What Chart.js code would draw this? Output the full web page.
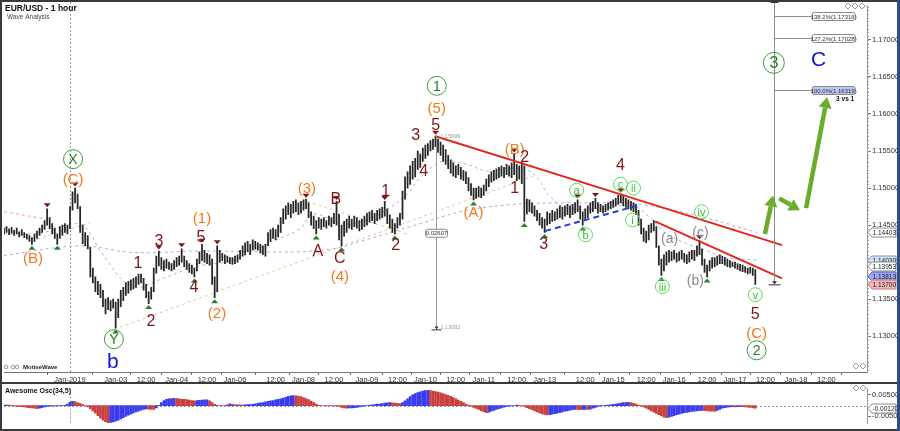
<!DOCTYPE html>
<html>
<head>
<meta charset="utf-8">
<script src="https://cdn.jsdelivr.net/npm/chart.js@4.4.1/dist/chart.umd.min.js"></script>
<style>
  html, body { margin: 0; padding: 0; background: #fff; }
  #wrap { position: relative; width: 900px; height: 431px; overflow: hidden; background: #fff; }
  #main { position: absolute; left: 0; top: 0; }
  #osc { position: absolute; left: 0; top: 383px; }
  .edge { position: absolute; background: #3a3a3a; }
</style>
</head>
<body>
<div id="wrap">
  <canvas id="main" width="900" height="383"></canvas>
  <canvas id="osc" width="900" height="46"></canvas>
  <div class="edge" style="left:0;top:0;width:900px;height:2px"></div>
  <div class="edge" style="left:0;top:0;width:2px;height:431px"></div>
  <div class="edge" style="left:0;top:382px;width:897px;height:2px"></div>
  <div class="edge" style="left:0;top:429px;width:900px;height:2px"></div>
  <div class="edge" style="left:897px;top:0;width:3px;height:431px;background:#2d4f86"></div>
</div>
<script>
// hourly bars, index 0 = first bar on the left
const lows = [
  1.1438,1.1440,1.1437,1.1439,1.1436,1.1438,1.1434,1.1436,1.1433,1.1431,
  1.1428,1.1424,1.1428,1.1432,1.1436,1.1440,1.1444,1.1450,1.1445,1.1438,
  1.1432,1.1424,1.1432,1.1436,1.1440,1.1438,1.1445,1.1470,1.1480,1.1472,
  1.1440,1.1425,1.1422,1.1418,1.1380,1.1372,1.1360,1.1356,1.1352,1.1340,
  1.1330,1.1336,1.1334,1.1338,1.1311,1.1325,1.1340,1.1348,1.1355,1.1358,
  1.1362,1.1364,1.1366,1.1370,1.1372,1.1362,1.1352,1.1344,1.1350,1.1360,
  1.1385,1.1395,1.1390,1.1388,1.1392,1.1390,1.1388,1.1390,1.1394,1.1396,
  1.1400,1.1394,1.1390,1.1386,1.1384,1.1380,1.1388,1.1398,1.1402,1.1400,
  1.1398,1.1396,1.1370,1.1352,1.1360,1.1400,1.1402,1.1398,1.1400,1.1398,
  1.1397,1.1398,1.1400,1.1404,1.1408,1.1410,1.1414,1.1410,1.1416,1.1418,
  1.1416,1.1412,1.1410,1.1408,1.1422,1.1428,1.1432,1.1430,1.1434,1.1440,
  1.1452,1.1458,1.1464,1.1460,1.1466,1.1468,1.1464,1.1466,1.1470,1.1472,
  1.1460,1.1450,1.1445,1.1438,1.1446,1.1444,1.1448,1.1446,1.1450,1.1448,
  1.1452,1.1450,1.1430,1.1422,1.1435,1.1440,1.1446,1.1444,1.1448,1.1446,
  1.1442,1.1444,1.1448,1.1450,1.1454,1.1456,1.1452,1.1456,1.1458,1.1460,
  1.1462,1.1452,1.1446,1.1440,1.1438,1.1446,1.1450,1.1458,1.1485,1.1500,
  1.1505,1.1512,1.1515,1.1525,1.1528,1.1536,1.1540,1.1544,1.1550,1.1552,
  1.1556,1.1548,1.1544,1.1536,1.1532,1.1526,1.1520,1.1516,1.1514,1.1518,
  1.1512,1.1510,1.1506,1.1496,1.1490,1.1484,1.1486,1.1488,1.1487,1.1490,
  1.1496,1.1502,1.1508,1.1510,1.1512,1.1514,1.1516,1.1514,1.1518,1.1516,
  1.1514,1.1518,1.1510,1.1512,1.1506,1.1455,1.1465,1.1468,1.1466,1.1462,
  1.1456,1.1450,1.1446,1.1440,1.1450,1.1452,1.1455,1.1456,1.1458,1.1460,
  1.1458,1.1462,1.1464,1.1460,1.1464,1.1466,1.1468,1.1458,1.1450,1.1456,
  1.1460,1.1466,1.1468,1.1472,1.1466,1.1468,1.1466,1.1468,1.1470,1.1472,
  1.1474,1.1476,1.1478,1.1480,1.1476,1.1474,1.1472,1.1470,1.1468,1.1464,
  1.1450,1.1438,1.1428,1.1426,1.1430,1.1440,1.1442,1.1420,1.1396,1.1382,
  1.1388,1.1396,1.1400,1.1402,1.1404,1.1400,1.1402,1.1404,1.1400,1.1398,
  1.1400,1.1404,1.1402,1.1408,1.1410,1.1396,1.1386,1.1380,1.1388,1.1392,
  1.1394,1.1396,1.1398,1.1398,1.1396,1.1394,1.1393,1.1394,1.1392,1.1390,
  1.1388,1.1387,1.1386,1.1384,1.1385,1.1382,1.1370
];
const highs = [
  1.1446,1.1448,1.1445,1.1447,1.1443,1.1446,1.1441,1.1444,1.1440,1.1438,
  1.1436,1.1433,1.1438,1.1442,1.1446,1.1450,1.1456,1.1472,1.1460,1.1452,
  1.1446,1.1438,1.1448,1.1450,1.1452,1.1450,1.1475,1.1495,1.1500,1.1492,
  1.1475,1.1450,1.1440,1.1436,1.1420,1.1392,1.1380,1.1374,1.1370,1.1362,
  1.1350,1.1352,1.1348,1.1350,1.1346,1.1350,1.1362,1.1366,1.1372,1.1374,
  1.1376,1.1378,1.1380,1.1384,1.1384,1.1378,1.1370,1.1360,1.1366,1.1392,
  1.1408,1.1415,1.1406,1.1402,1.1404,1.1400,1.1398,1.1402,1.1406,1.1408,
  1.1418,1.1408,1.1402,1.1398,1.1396,1.1392,1.1404,1.1414,1.1424,1.1416,
  1.1412,1.1410,1.1404,1.1380,1.1422,1.1416,1.1412,1.1410,1.1408,1.1406,
  1.1406,1.1408,1.1410,1.1416,1.1422,1.1426,1.1428,1.1424,1.1430,1.1428,
  1.1426,1.1424,1.1422,1.1424,1.1440,1.1444,1.1446,1.1444,1.1450,1.1460,
  1.1472,1.1476,1.1480,1.1478,1.1482,1.1484,1.1480,1.1482,1.1484,1.1485,
  1.1480,1.1468,1.1462,1.1456,1.1460,1.1458,1.1460,1.1456,1.1462,1.1460,
  1.1466,1.1482,1.1465,1.1450,1.1455,1.1458,1.1462,1.1458,1.1462,1.1460,
  1.1456,1.1458,1.1462,1.1466,1.1468,1.1470,1.1466,1.1470,1.1472,1.1474,
  1.1482,1.1472,1.1464,1.1458,1.1452,1.1460,1.1466,1.1496,1.1515,1.1522,
  1.1530,1.1536,1.1540,1.1550,1.1546,1.1554,1.1558,1.1560,1.1564,1.1566,
  1.1570,1.1566,1.1562,1.1558,1.1552,1.1544,1.1538,1.1534,1.1530,1.1532,
  1.1528,1.1524,1.1522,1.1514,1.1506,1.1500,1.1500,1.1502,1.1500,1.1504,
  1.1512,1.1518,1.1522,1.1524,1.1526,1.1528,1.1530,1.1528,1.1532,1.1530,
  1.1534,1.1546,1.1532,1.1530,1.1536,1.1530,1.1485,1.1484,1.1480,1.1476,
  1.1470,1.1466,1.1460,1.1458,1.1468,1.1466,1.1470,1.1468,1.1472,1.1476,
  1.1474,1.1476,1.1478,1.1476,1.1478,1.1480,1.1484,1.1476,1.1468,1.1472,
  1.1476,1.1480,1.1482,1.1486,1.1480,1.1478,1.1476,1.1478,1.1480,1.1482,
  1.1484,1.1486,1.1490,1.1492,1.1490,1.1486,1.1484,1.1482,1.1480,1.1478,
  1.1470,1.1458,1.1446,1.1442,1.1450,1.1452,1.1456,1.1448,1.1422,1.1404,
  1.1410,1.1414,1.1416,1.1414,1.1416,1.1412,1.1414,1.1416,1.1412,1.1410,
  1.1414,1.1416,1.1416,1.1422,1.1429,1.1418,1.1404,1.1396,1.1402,1.1406,
  1.1406,1.1408,1.1410,1.1408,1.1406,1.1404,1.1402,1.1400,1.1400,1.1398,
  1.1397,1.1396,1.1394,1.1392,1.1393,1.1392,1.1390
];
// Awesome Oscillator (34,5)
const aoValues = [
  0.0003,0.0003,0.00025,0.0002,-0.0001,-0.0003,-0.0004,-0.0005,-0.0006,-0.0008,
  -0.0009,-0.0011,-0.0012,-0.0014,-0.0012,-0.0009,-0.0006,-0.0003,-0.0002,-0.0001,
  -0.0002,-0.0001,0,0.0001,0.0002,0.0008,0.0016,0.0020,0.0019,0.0015,
  0.0010,0.0005,0.0001,-0.0006,-0.0014,-0.0024,-0.0035,-0.0047,-0.0058,-0.0067,
  -0.0075,-0.0079,-0.0078,-0.0076,-0.0072,-0.0068,-0.0062,-0.0056,-0.0050,-0.0044,
  -0.0039,-0.0034,-0.0029,-0.0025,-0.0021,-0.0017,-0.0015,-0.0016,-0.0017,-0.0018,
  -0.0010,0.0002,0.0014,0.0024,0.0030,0.0032,0.0033,0.0034,0.0033,0.0032,
  0.0030,0.0029,0.0028,0.0026,0.0024,0.0023,0.0024,0.0025,0.0026,0.0027,
  0.00275,0.0022,0.0014,0.0006,0.0002,0.0001,0,-0.0001,0.0004,0.0009,
  0.0006,0.0004,0.00045,0.0004,0.0003,0.0004,0.0005,0.00055,0.0006,0.0009,
  0.0011,0.0013,0.0015,0.0018,0.0020,0.0022,0.0024,0.0027,0.0029,0.0032,
  0.0035,0.0039,0.0043,0.0046,0.0047,0.0046,0.0045,0.0042,0.0038,0.0033,
  0.0028,0.0021,0.0014,0.0007,0.0002,0.0001,0,-0.0001,-0.00015,0,
  -0.0001,-0.0002,-0.0004,-0.0008,-0.0010,-0.0012,-0.0011,-0.0010,-0.0009,-0.0008,
  -0.0006,-0.0004,-0.0002,0,0.0002,0.0004,0.0005,0.0007,0.0008,0.0010,
  0.0012,0.0013,0.0014,0.0013,0.0012,0.0011,0.0010,0.0014,0.0022,0.0032,
  0.0042,0.0050,0.0056,0.0061,0.0065,0.0068,0.0070,0.0072,0.0070,0.0068,
  0.0066,0.0063,0.0060,0.0056,0.0052,0.0048,0.0044,0.0038,0.0032,0.0026,
  0.0020,0.0014,0.0008,0.0003,-0.0003,-0.0008,-0.0013,-0.0018,-0.0023,-0.0028,
  -0.0032,-0.0030,-0.0026,-0.0022,-0.0018,-0.0014,-0.0010,-0.0007,-0.0004,-0.0002,
  -0.0001,0.0001,0.0003,0.0002,0,-0.0004,-0.0009,-0.0014,-0.0019,-0.0024,
  -0.0029,-0.0034,-0.0038,-0.0041,-0.0043,-0.0042,-0.0040,-0.0037,-0.0035,-0.0032,
  -0.0029,-0.0026,-0.0024,-0.0021,-0.0019,-0.0017,-0.0018,-0.0019,-0.0018,-0.0017,
  -0.0018,-0.0016,-0.0012,-0.0008,-0.0004,-0.0001,0.0001,0.0002,0.0003,0.0004,
  0.0006,0.0008,0.0010,0.0012,0.0014,0.0015,0.0016,0.0014,0.0011,0.0007,
  0.0003,-0.0001,-0.0006,-0.0012,-0.0018,-0.0024,-0.0030,-0.0036,-0.0042,-0.0048,
  -0.0053,-0.0056,-0.0054,-0.0050,-0.0046,-0.0042,-0.0039,-0.0036,-0.0033,-0.0031,
  -0.0029,-0.0027,-0.0025,-0.0024,-0.0023,-0.0022,-0.0023,-0.0024,-0.0025,-0.0026,
  -0.0027,-0.0022,-0.0017,-0.0012,-0.0009,-0.0007,-0.0006,-0.0005,-0.0006,-0.0005,
  -0.0004,-0.0005,-0.0006,-0.0007,-0.0008,-0.0010,-0.0012
];

const xTickPos = [26, 44, 56, 68, 80, 91, 107, 118, 130, 143, 155, 166, 178, 189, 202, 213, 229, 240, 253, 264, 277, 288, 300, 312, 324];
const xTickText = ['Jan-2019','Jan-03','12:00','Jan-04','12:00','Jan-06','12:00','Jan-08','12:00','Jan-09','12:00','Jan-10','12:00',
  'Jan-11','12:00','Jan-13','12:00','Jan-15','12:00','Jan-16','12:00','Jan-17','12:00','Jan-18','12:00'];
const priceTicks = [1.13, 1.135, 1.14, 1.145, 1.15, 1.155, 1.16, 1.165, 1.17];
const aoTicks = [-0.005, 0.005];
const yearBreak = 26;

// moving averages [bar, price]
const maFast = [[0,1.1438],[14,1.1439],[30,1.1451],[38,1.1415],[44.5,1.1384],[48.5,1.1371],[53.6,1.1366],[60.3,1.1375],
  [77,1.1395],[90,1.1402],[103.6,1.1425],[116.6,1.1445],[121.7,1.1465],[135,1.1451],[148,1.1465],[158.8,1.1492],
  [165,1.1518],[173,1.1536],[182.4,1.1532],[190.3,1.1523],[200.6,1.1527],[208.4,1.1520],[215,1.1489],[221.8,1.1473],
  [234.8,1.1472],[247.8,1.1476],[254.5,1.1460],[261.2,1.1438],[269,1.1425],[277,1.1415],[285,1.1406],[296.7,1.1403]];
const maSlow = [[0,1.1409],[30,1.1422],[50.8,1.1413],[77,1.1415],[101,1.1414],[116.6,1.1414],[131.2,1.1419],[141.4,1.1429],
  [161.2,1.1449],[181,1.1469],[200.6,1.1478],[219,1.1480],[234.8,1.1480],[250.6,1.1478],[274.2,1.1462],[296.7,1.1440]];

// drawn lines [[bar, price], [bar, price]]
const channelLines = [
  [[45.7,1.1312],[210,1.1518]],
  [[13,1.1431],[33.9,1.1453]],
  [[119.4,1.1482],[158.8,1.1438]]
];
const salmonLine = [[0,1.1468],[16.9,1.1458]];
const redLines = [
  [[170,1.1570],[306.5,1.1423]],
  [[256.5,1.1455],[306.5,1.1378]]
];
const blueLine = [[213.2,1.1442],[249.4,1.1476]];
const greenArrows = [
  [[299.8,1.1438],[303,1.1490]],
  [[305.4,1.1486],[313.6,1.1470]],
  [[316,1.1473],[324.3,1.1623]]
];

// wave count labels [text, bar, price, kind]
const waveLabels = [
  ['X',27.2,1.1539,'gc'],['(C)',27.2,1.1512,'or'],['(B)',11.4,1.1406,'or'],['Y',43.3,1.1296,'gc'],
  ['1',52.8,1.1399,'dr'],['2',57.9,1.1321,'dr'],['3',61,1.1429,'dr'],['4',74.8,1.1367,'dr'],['5',77.6,1.1435,'dr'],
  ['(1)',78,1.1460,'or'],['(2)',83.9,1.1331,'or'],['b',42.9,1.1266,'bl'],
  ['(3)',119.3,1.1500,'or'],['A',123.6,1.1415,'dr'],['B',130.7,1.1486,'dr'],['C',132.3,1.1406,'dr'],['(4)',132.3,1.1382,'or'],
  ['1',150.4,1.1497,'dr'],['2',154.3,1.1423,'dr'],['3',162.2,1.1572,'dr'],['4',165.4,1.1523,'dr'],['5',170.1,1.1586,'dr'],
  ['(5)',170.5,1.1608,'or'],['1',170.5,1.1638,'gc'],['(A)',185,1.1468,'or'],['(B)',201.2,1.1553,'or'],
  ['2',205.1,1.1543,'dr'],['1',201.2,1.1500,'dr'],['3',212.6,1.1425,'dr'],['4',242.9,1.1531,'dr'],
  ['a',225.6,1.1497,'lg'],['b',229.1,1.1437,'lg'],['c',242.9,1.1505,'lg'],['ii',248,1.1500,'lg'],['i',247.6,1.1457,'lg'],
  ['iv',274.8,1.1468,'lg'],['iii',259.4,1.1367,'lg'],['(a)',262.2,1.1433,'gr'],['(c)',274.4,1.1441,'gr'],['(b)',272.4,1.1376,'gr'],
  ['v',296,1.1356,'lg'],['5',296,1.1331,'dr'],['(C)',296.5,1.1304,'or'],['2',296.5,1.1281,'gc'],
  ['3',303.3,1.1669,'gcBig'],['C',320.9,1.1674,'bl']
];
const pivotHighs = [17, 28, 61, 70, 78, 84, 119, 131, 150, 170, 201, 226, 233, 243, 274];
const pivotLows = [11, 21, 44, 57, 75, 83, 123, 133, 154, 185, 205, 213, 228, 259, 277];

// fibonacci projection and wave-1 measure
const fibBar = 303.4, fibBase = 1.1370, fibLabelBar = 318.4;
const fibLevels = [[1.17316,'138.2%(1.17316)'],[1.17028,'127.2%(1.17028)'],[1.16319,'100.0%(1.16319)']];
const measureBar = 170.2, measureTop = 1.15699, measureLow = 1.13092;
const flags = [[1.14403,'w'],[1.14030,'lb'],[1.13953,'w'],[1.13813,'b'],[1.13700,'r']];
const aoLast = -0.0012;

const FONT = '"Liberation Sans", Arial, sans-serif';
Chart.defaults.font.family = FONT;

const pts = arr => arr.map(p => ({x: p[0], y: p[1]}));
function lineSet(points, color, width, dash, order) {
  return { type: 'line', data: pts(points), borderColor: color, borderWidth: width, borderDash: dash,
    pointRadius: 0, tension: 0.35, order: order, clip: false };
}

const labelStyle = {
  dr: {color: '#7d1616', size: 16},
  or: {color: '#f07a1c', size: 15},
  gr: {color: '#8a8a8a', size: 14},
  bl: {color: '#1414d8', size: 21},
  gc: {color: '#1f7f1f', size: 14, r: 9.5, ring: '#3a9a3a'},
  gcBig: {color: '#1f7f1f', size: 16, r: 10.5, ring: '#3a9a3a'},
  lg: {color: '#2fc42f', size: 11, r: 7, ring: '#55dd55'}
};
const flagStyle = {
  w: ['#ffffff', '#8a8a8a'], lb: ['#cfe3f3', '#7a9ab8'], b: ['#9fa6f2', '#5a62c8'], r: ['#f3b7b7', '#c87a7a']
};

function arrow(ctx, x1, y1, x2, y2) {
  const a = Math.atan2(y2 - y1, x2 - x1), hl = 11, hw = 6.5;
  const bx = x2 - hl * Math.cos(a), by = y2 - hl * Math.sin(a);
  ctx.strokeStyle = '#6aac2c'; ctx.fillStyle = '#6aac2c'; ctx.lineWidth = 4.5;
  ctx.beginPath(); ctx.moveTo(x1, y1); ctx.lineTo(bx, by); ctx.stroke();
  ctx.beginPath(); ctx.moveTo(x2, y2);
  ctx.lineTo(bx + hw * Math.sin(a), by - hw * Math.cos(a));
  ctx.lineTo(bx - hw * Math.sin(a), by + hw * Math.cos(a));
  ctx.closePath(); ctx.fill();
}
function flag(ctx, x0, py, txt, fill, stroke) {
  ctx.beginPath();
  ctx.moveTo(x0, py); ctx.lineTo(x0 + 4, py - 4.5); ctx.lineTo(x0 + 28, py - 4.5);
  ctx.lineTo(x0 + 28, py + 4.5); ctx.lineTo(x0 + 4, py + 4.5); ctx.closePath();
  ctx.fillStyle = fill; ctx.fill();
  ctx.strokeStyle = stroke; ctx.lineWidth = 1; ctx.stroke();
  ctx.fillStyle = '#222'; ctx.font = '6.5px ' + FONT; ctx.textAlign = 'left'; ctx.textBaseline = 'middle';
  ctx.fillText(txt, x0 + 4.5, py + 0.5);
}
function box(ctx, cx, cy, w, h, txt, fill) {
  ctx.fillStyle = fill; ctx.strokeStyle = '#8a8a8a'; ctx.lineWidth = 1;
  ctx.beginPath(); ctx.roundRect(cx - w / 2, cy - h / 2, w, h, 2); ctx.fill(); ctx.stroke();
  ctx.fillStyle = '#333'; ctx.font = '6px ' + FONT; ctx.textAlign = 'center'; ctx.textBaseline = 'middle';
  ctx.fillText(txt, cx, cy + 0.5);
}

const mainOverlay = {
  id: 'mainOverlay',
  beforeDatasetsDraw(chart) {
    const {ctx, chartArea: a, scales: {x, y}} = chart;
    ctx.save();
    const yx = Math.round(x.getPixelForValue(yearBreak)) + 0.5;
    ctx.strokeStyle = '#9a9a9a'; ctx.lineWidth = 1; ctx.setLineDash([2, 2]);
    ctx.beginPath(); ctx.moveTo(yx, 2); ctx.lineTo(yx, a.bottom); ctx.stroke();
    ctx.setLineDash([]);
    ctx.strokeStyle = '#999';
    for (let v = 1.1255; v < 1.1746; v += 0.0005) {
      const py = Math.round(y.getPixelForValue(v)) + 0.5;
      ctx.beginPath(); ctx.moveTo(a.right, py); ctx.lineTo(a.right + 2, py); ctx.stroke();
    }
    ctx.restore();
  },
  afterDatasetsDraw(chart) {
    const {ctx, chartArea: a, scales: {x, y}} = chart;
    const X = v => x.getPixelForValue(v), Y = v => y.getPixelForValue(v);
    ctx.save();

    // fib projection
    const fx = Math.round(X(fibBar)) + 0.5;
    ctx.strokeStyle = '#8c8c8c'; ctx.lineWidth = 1;
    ctx.beginPath(); ctx.moveTo(fx, 0); ctx.lineTo(fx, Y(fibBase)); ctx.stroke();
    ctx.strokeStyle = '#333';
    ctx.beginPath(); ctx.moveTo(fx - 6, Y(fibBase) + 0.5); ctx.lineTo(fx + 6, Y(fibBase) + 0.5); ctx.stroke();
    ctx.beginPath(); ctx.moveTo(fx - 4, 2.5); ctx.lineTo(fx + 4, 2.5); ctx.stroke();
    ctx.fillStyle = '#333';
    ctx.beginPath(); ctx.moveTo(fx - 2.5, Y(fibBase) - 3); ctx.lineTo(fx + 2.5, Y(fibBase) - 3); ctx.lineTo(fx, Y(fibBase)); ctx.fill();
    for (const [lv, txt] of fibLevels) {
      const py = Math.round(Y(lv)) + 0.5;
      ctx.strokeStyle = '#8c8c8c';
      ctx.beginPath(); ctx.moveTo(fx, py); ctx.lineTo(X(fibLabelBar), py); ctx.stroke();
      box(ctx, X(fibLabelBar) + 21.5, py, 43, 8, txt, lv === 1.16319 ? '#bcc6ef' : '#fff');
    }
    ctx.fillStyle = '#111'; ctx.font = 'bold 6.5px ' + FONT; ctx.textAlign = 'right'; ctx.textBaseline = 'middle';
    ctx.fillText('3 vs 1', X(fibLabelBar) + 42, Y(1.16319) + 9);

    // wave 1 measure
    const mx = Math.round(X(measureBar)) + 0.5;
    ctx.strokeStyle = '#9a9a9a'; ctx.lineWidth = 1;
    ctx.beginPath(); ctx.moveTo(mx, Y(measureTop)); ctx.lineTo(mx, Y(measureLow)); ctx.stroke();
    ctx.strokeStyle = '#333';
    ctx.beginPath(); ctx.moveTo(mx - 5, Y(measureLow) + 0.5); ctx.lineTo(mx + 5, Y(measureLow) + 0.5); ctx.stroke();
    ctx.fillStyle = '#333';
    ctx.beginPath(); ctx.moveTo(mx - 2, Y(measureLow) - 3); ctx.lineTo(mx + 2, Y(measureLow) - 3); ctx.lineTo(mx, Y(measureLow)); ctx.fill();
    ctx.fillStyle = '#999'; ctx.font = '5.5px ' + FONT; ctx.textAlign = 'left';
    ctx.fillText(measureTop.toFixed(5), mx + 4, Y(measureTop));
    ctx.fillText(measureLow.toFixed(5), mx + 4, Y(measureLow) - 2);
    box(ctx, mx, Y(1.1439), 22, 8, (measureTop - measureLow).toFixed(5), '#fff');

    // projection arrows
    for (const [p, q] of greenArrows) arrow(ctx, X(p[0]), Y(p[1]), X(q[0]), Y(q[1]));

    // pivot markers
    ctx.fillStyle = '#7a1818';
    for (const k of pivotHighs) {
      const px = X(k), py = Y(highs[k]) - 1.5;
      ctx.beginPath(); ctx.moveTo(px - 3.5, py - 4); ctx.lineTo(px + 3.5, py - 4); ctx.lineTo(px, py); ctx.closePath(); ctx.fill();
    }
    ctx.fillStyle = '#2d7a30';
    for (const k of pivotLows) {
      const px = X(k), py = Y(lows[k]) + 1.5;
      ctx.beginPath(); ctx.moveTo(px - 3.5, py + 4); ctx.lineTo(px + 3.5, py + 4); ctx.lineTo(px, py); ctx.closePath(); ctx.fill();
    }

    // wave labels
    ctx.textAlign = 'center'; ctx.textBaseline = 'middle';
    for (const [t, i, p, kind] of waveLabels) {
      const s = labelStyle[kind], px = X(i), py = Y(p);
      if (s.r) {
        ctx.strokeStyle = s.ring; ctx.lineWidth = 1;
        ctx.beginPath(); ctx.arc(px, py, s.r, 0, Math.PI * 2); ctx.stroke();
      }
      ctx.fillStyle = s.color; ctx.font = s.size + 'px ' + FONT;
      ctx.fillText(t, px, py + 1);
    }

    // price flags on the axis
    for (const [v, k] of flags) flag(ctx, a.right + 1, Math.round(Y(v)) + 0.5, v.toFixed(5), flagStyle[k][0], flagStyle[k][1]);

    // titles
    ctx.textAlign = 'left'; ctx.textBaseline = 'middle';
    ctx.fillStyle = '#111'; ctx.font = 'bold 8.5px ' + FONT; ctx.fillText('EUR/USD - 1 hour', 5, 9);
    ctx.fillStyle = '#444'; ctx.font = '6.5px ' + FONT; ctx.fillText('Wave Analysis', 7, 17);
    ctx.fillStyle = '#222'; ctx.font = 'bold 6px ' + FONT; ctx.fillText('MotiveWave', 23, 367);
    ctx.strokeStyle = '#999'; ctx.lineWidth = 1;
    for (const cx of [6, 13, 17]) { ctx.beginPath(); ctx.arc(cx, 367, 1.8, 0, Math.PI * 2); ctx.stroke(); }
    for (const cx of [848, 855, 862]) {
      ctx.beginPath(); ctx.moveTo(cx, 3); ctx.lineTo(cx + 3, 6); ctx.lineTo(cx, 9); ctx.lineTo(cx - 3, 6); ctx.closePath(); ctx.stroke();
    }
    for (const cx of [856, 863]) {
      ctx.beginPath(); ctx.moveTo(cx, 363); ctx.lineTo(cx + 3, 366); ctx.lineTo(cx, 369); ctx.lineTo(cx - 3, 366); ctx.closePath(); ctx.stroke();
    }
    ctx.restore();
  }
};

new Chart(document.getElementById('main'), {
  type: 'bar',
  data: {
    datasets: [
      { type: 'bar', data: highs.map((h, k) => ({x: k, y: [lows[k], h]})), backgroundColor: '#262626',
        barThickness: 1.1, order: 3 },
      lineSet(maFast, '#9fbbe6', 1, [3, 3], 6),
      lineSet(maSlow, '#cda0d6', 1, [3, 3], 6),
      lineSet(salmonLine, '#f0a090', 1, [3, 3], 6),
      ...channelLines.map(l => lineSet(l, '#e6c890', 1, [3, 3], 6)),
      ...redLines.map(l => lineSet(l, '#e5241c', 2, [], 1)),
      lineSet(blueLine, '#2a3ed8', 2, [6, 4], 1)
    ]
  },
  options: {
    responsive: false,
    animation: false,
    layout: { padding: { left: 4, top: 3, right: 0, bottom: 0 } },
    plugins: { legend: { display: false }, tooltip: { enabled: false } },
    scales: {
      x: {
        type: 'linear', min: 0, max: 340, offset: false,
        afterBuildTicks: s => { s.ticks = xTickPos.map(v => ({value: v})); },
        afterFit: s => { s.height = 11; },
        grid: { display: true, drawOnChartArea: false, tickLength: 3, color: '#666' },
        border: { color: '#777' },
        ticks: { autoSkip: false, maxRotation: 0, minRotation: 0, padding: 0, color: '#333',
          font: { size: 7.5 }, callback: (v, k) => xTickText[k] }
      },
      y: {
        position: 'right', min: 1.12517, max: 1.17464,
        afterBuildTicks: s => { s.ticks = priceTicks.map(v => ({value: v})); },
        afterFit: s => { s.width = 33; },
        grid: { display: true, drawOnChartArea: false, tickLength: 4, color: '#777' },
        border: { color: '#999' },
        ticks: { padding: 1, color: '#333', font: { size: 7.5 }, callback: v => v.toFixed(5) }
      }
    }
  },
  plugins: [mainOverlay]
});

// AO colours: blue when rising, red when falling
const aoColors = aoValues.map((v, k) => k > 0 && v < aoValues[k - 1] ? '#c8403c' : '#3a3af0');
for (let k = 1; k < aoValues.length; k++) if (aoValues[k] === aoValues[k - 1]) aoColors[k] = aoColors[k - 1];

const oscOverlay = {
  id: 'oscOverlay',
  beforeDatasetsDraw(chart) {
    const {ctx, chartArea: a, scales: {x, y}} = chart;
    ctx.save();
    const yx = Math.round(x.getPixelForValue(yearBreak)) + 0.5;
    ctx.strokeStyle = '#9a9a9a'; ctx.lineWidth = 1; ctx.setLineDash([2, 2]);
    ctx.beginPath(); ctx.moveTo(yx, a.top); ctx.lineTo(yx, a.bottom); ctx.stroke();
    const zy = Math.round(y.getPixelForValue(0)) + 0.5;
    ctx.beginPath(); ctx.moveTo(a.left, zy); ctx.lineTo(a.right, zy); ctx.stroke();
    ctx.restore();
  },
  afterDatasetsDraw(chart) {
    const {ctx, chartArea: a, scales: {y}} = chart;
    ctx.save();
    ctx.fillStyle = '#111'; ctx.font = 'bold 7px ' + FONT; ctx.textAlign = 'left'; ctx.textBaseline = 'middle';
    ctx.fillText('Awesome Osc(34,5)', 5, 8);
    flag(ctx, a.right + 1, Math.round(y.getPixelForValue(aoLast)) + 0.5, aoLast.toFixed(5), '#fff', '#8a8a8a');
    ctx.strokeStyle = '#999'; ctx.lineWidth = 1;
    for (const cx of [856, 863]) {
      ctx.beginPath(); ctx.moveTo(cx, 2); ctx.lineTo(cx + 3, 5); ctx.lineTo(cx, 8); ctx.lineTo(cx - 3, 5); ctx.closePath(); ctx.stroke();
    }
    ctx.restore();
  }
};

new Chart(document.getElementById('osc'), {
  type: 'bar',
  data: {
    datasets: [{ data: aoValues.map((v, k) => ({x: k, y: v})), backgroundColor: aoColors, barThickness: 2 }]
  },
  options: {
    responsive: false,
    animation: false,
    layout: { padding: { left: 4, top: 1, right: 0, bottom: 1 } },
    plugins: { legend: { display: false }, tooltip: { enabled: false } },
    scales: {
      x: { type: 'linear', min: 0, max: 340, offset: false, display: false },
      y: {
        position: 'right', min: -0.0083, max: 0.008,
        afterBuildTicks: s => { s.ticks = aoTicks.map(v => ({value: v})); },
        afterFit: s => { s.width = 33; },
        grid: { display: true, drawOnChartArea: false, tickLength: 4, color: '#777' },
        border: { color: '#999' },
        ticks: { padding: 1, color: '#333', font: { size: 7.5 }, callback: v => v.toFixed(5) }
      }
    }
  },
  plugins: [oscOverlay]
});
</script>
</body>
</html>
